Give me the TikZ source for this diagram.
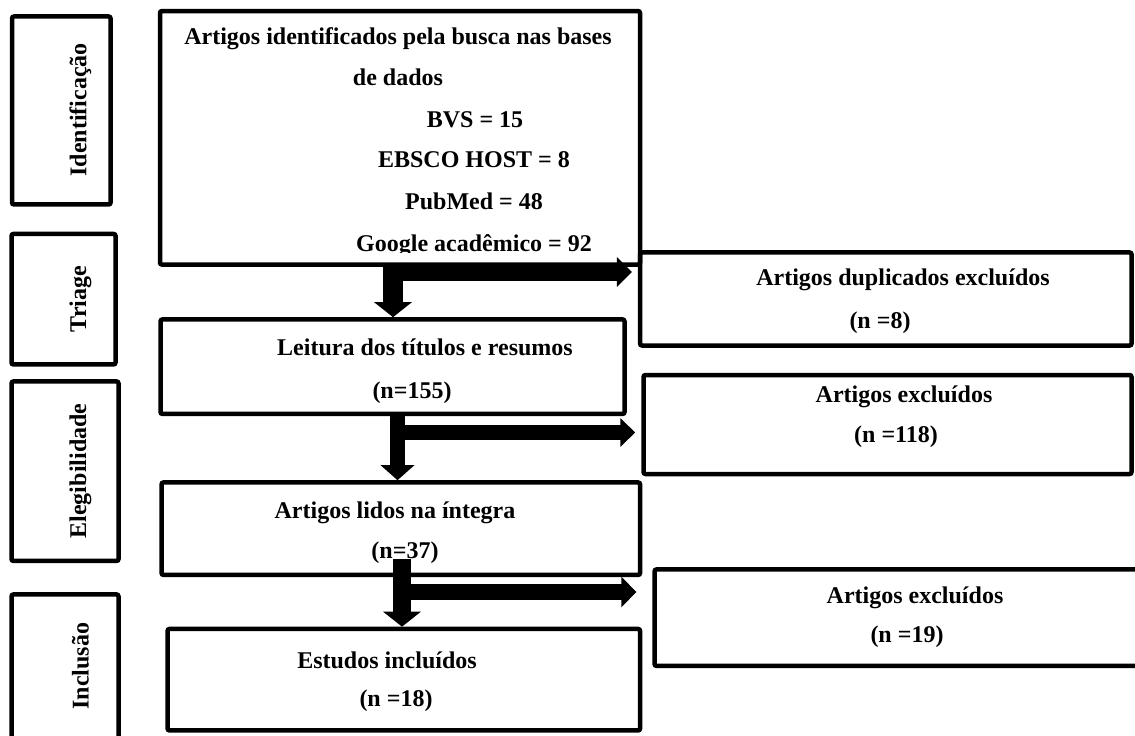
\documentclass[tikz,border=0pt]{standalone}
\usepackage{fontspec}
\setmainfont{Liberation Serif}
\usetikzlibrary{arrows.meta}
\tikzset{
  caixa/.style={draw, line width=2.25pt, rounded corners=1pt, inner sep=0pt},
  txt/.style={font=\fontsize{12pt}{14pt}\selectfont\bfseries, anchor=base, inner sep=0pt},
  fase/.style={font=\fontsize{12pt}{14pt}\selectfont\bfseries, rotate=90, inner sep=0pt},
  seta/.style 2 args={line width=#1, -{Triangle[length=7.5pt,width=#2]}}
}
\begin{document}
\begin{tikzpicture}[x=5pt,y=5pt]
	\useasboundingbox (0,0) rectangle (113.5,73.5);
	% fases
	\node[caixa, minimum width=49.25pt, minimum height=94pt] (idt) at (6.13,62.45) {};
	\node[caixa, minimum width=52pt, minimum height=65.25pt] (tri) at (6.35,43.58) {};
	\node[caixa, minimum width=53.5pt, minimum height=89.75pt] (ele) at (6.5,26.38) {};
	\node[caixa, minimum width=53.5pt, minimum height=72.75pt] (inc) at (6.5,6.78) {};
	\node[fase] (idt-t) at (8.05,62.5) {Identificação};
	\node[fase] (tri-t) at (8.05,43.6) {Triage};
	\node[fase] (ele-t) at (8.05,26.4) {Elegibilidade};
	\node[fase] (inc-t) at (8.05,6.9) {Inclusão};
	% caixas
	\node[caixa, minimum width=240pt, minimum height=126.75pt] (busca) at (40.0,59.72) {};
	\node[caixa, minimum width=232pt, minimum height=47.25pt] (leitura) at (39.25,36.83) {};
	\node[caixa, minimum width=239.25pt, minimum height=46.25pt] (lidos) at (40.08,20.63) {};
	\node[caixa, minimum width=236.25pt, minimum height=50.75pt] (estudos) at (40.38,5.53) {};
	\node[caixa, minimum width=245.75pt, minimum height=46.5pt] (dupl) at (88.58,43.6) {};
	\node[caixa, minimum width=244pt, minimum height=49.5pt] (exc1) at (88.75,31.05) {};
	\node[caixa, minimum width=242.75pt, minimum height=48.25pt] (exc2) at (89.73,11.73) {};
	% textos
	\node[txt] (busca-t1) at (39.8,69.0) {Artigos identificados pela busca nas bases};
	\node[txt] (busca-t2) at (39.8,64.9) {de dados};
	\node[txt] (busca-t3) at (47.5,60.7) {BVS = 15};
	\node[txt] (busca-t4) at (47.4,56.7) {EBSCO HOST = 8};
	\node[txt] (busca-t5) at (47.4,52.5) {PubMed = 48};
	\begin{scope}
		\clip (16,48.25) rectangle (63.5,51);
		\node[txt] (busca-t6) at (47.4,48.3) {Google acadêmico = 92};
	\end{scope}
	\node[txt] (leitura-t1) at (42.5,38.0) {Leitura dos títulos e resumos};
	\node[txt] (leitura-t2) at (41.2,33.7) {(n=155)};
	\node[txt] (lidos-t1) at (39.5,21.7) {Artigos lidos na íntegra};
	\node[txt] (lidos-t2) at (40.5,17.7) {(n=37)};
	\node[txt] (estudos-t1) at (38.7,6.7) {Estudos incluídos};
	\node[txt] (estudos-t2) at (39.6,2.9) {(n =18)};
	\node[txt] (dupl-t1) at (90.3,45.0) {Artigos duplicados excluídos};
	\node[txt] (dupl-t2) at (88.0,40.7) {(n =8)};
	\node[txt] (exc1-t1) at (90.4,33.3) {Artigos excluídos};
	\node[txt] (exc1-t2) at (89.6,29.3) {(n =118)};
	\node[txt] (exc2-t1) at (91.5,13.2) {Artigos excluídos};
	\node[txt] (exc2-t2) at (90.7,9.3) {(n =19)};
	% setas
	\coordinate (v1) at (39.3,47.2);
	\coordinate (h1) at (39.3,46.3);
	\draw[seta={10pt}{18.5pt}] (v1) -- (v1 |- leitura.north);
	\draw[seta={9pt}{14.5pt}, shorten >=3pt] (h1) -- (h1 -| dupl.west);
	\coordinate (v2) at (39.75,32.1);
	\coordinate (h2) at (39.75,30.25);
	\draw[seta={7.5pt}{16.5pt}] (v2) -- (v2 |- lidos.north);
	\draw[seta={7.5pt}{14pt}, shorten >=3pt] (h2) -- (h2 -| exc1.west);
	\coordinate (v3) at (40.2,17.6);
	\coordinate (h3) at (40.2,14.3);
	\draw[seta={9pt}{18.5pt}] (v3) -- (v3 |- estudos.north);
	\draw[seta={8pt}{15pt}, shorten >=8pt] (h3) -- (h3 -| exc2.west);
\end{tikzpicture}
\end{document}
